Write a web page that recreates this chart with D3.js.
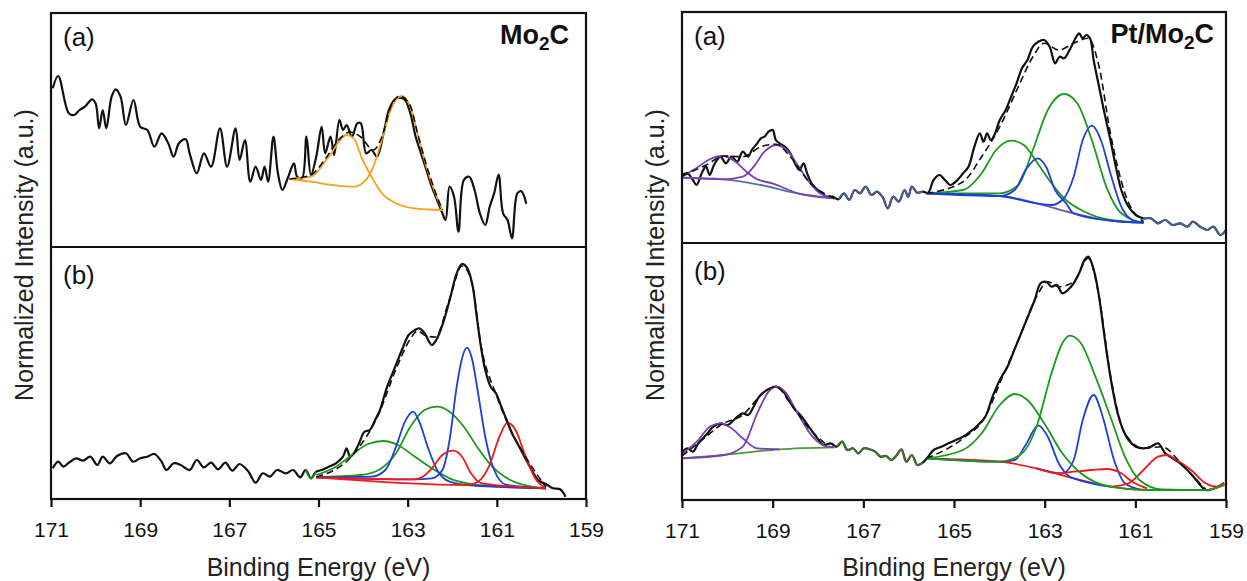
<!DOCTYPE html>
<html>
<head>
<meta charset="utf-8">
<script src="https://cdn.jsdelivr.net/npm/d3@7"></script>
<style>
  body { margin: 0; background: #fff; }
  text { font-family: "Liberation Sans", Arial, sans-serif; }
</style>
</head>
<body>
<svg id="chart" width="1247" height="581"></svg>
<script>
// ---- data: [binding energy (eV), intensity (a.u.)] ----
var energyTicks = [171, 169, 167, 165, 163, 161, 159];

// Mo2C (a)
var mo2cA = [[170.96,158.7],[170.84,171],[170.60,133.7],[170.48,132],[170.36,137],[170.24,140.3],[170.08,147.7],[170.00,143.7],[169.92,118.7],[169.84,137],[169.76,118.7],[169.64,150.3],[169.55,157.7],[169.44,150.3],[169.32,122],[169.15,147],[169.00,120.3],[168.84,117],[168.68,100.3],[168.52,113.7],[168.37,103.7],[168.25,90.3],[168.13,103.7],[167.98,107.7],[167.89,93.7],[167.73,73.7],[167.57,93.7],[167.41,80.3],[167.21,118.7],[167.05,80.3],[166.86,118.7],[166.77,87],[166.65,107],[166.53,65.3],[166.41,80.3],[166.29,67],[166.21,80.3],[166.13,65.3],[166.01,110.3],[165.91,73.7],[165.81,57],[165.69,68.7],[165.55,83.7],[165.48,70.3],[165.37,68.7],[165.27,110.3],[165.17,72],[165.05,90.3],[164.93,120.3],[164.85,93.7],[164.73,110.3],[164.65,92],[164.53,127],[164.45,117],[164.37,122],[164.25,110.3],[164.13,123.7],[164.05,123.7],[163.93,93.7],[163.81,97],[163.69,90.3],[163.54,113.7],[163.42,137],[163.30,147],[163.18,149.3],[163.06,147],[162.94,133.7],[162.82,110.3],[162.70,93.7],[162.58,77],[162.46,60.3],[162.34,47],[162.22,33.7],[162.15,27],[162.06,60.3],[161.96,50.3],[161.86,15.3],[161.74,67],[161.62,70.3],[161.50,57],[161.38,33.7],[161.26,22],[161.16,40.3],[161.06,53.7],[160.96,72.3],[160.86,33.7],[160.76,27],[160.66,8.7],[160.54,53.7],[160.45,55.7],[160.34,43.3]];
var mo2cAPeak1 = [[165.65,68],[165.17,70.3],[164.77,90.3],[164.37,112],[164.21,108.7],[164.01,87],[163.81,70.3],[163.58,53.7],[163.26,43.7],[162.86,38.7],[162.22,37]];
var mo2cAPeak2 = [[165.65,68],[165.17,65.3],[164.69,62],[164.21,60.3],[163.97,65.3],[163.77,80.3],[163.58,107],[163.38,137],[163.14,151],[162.94,140.3],[162.78,113.7],[162.58,80.3],[162.38,53.7],[162.22,37]];
var mo2cAFit = [[165.65,68],[165.17,72],[164.85,88],[164.53,108],[164.29,115],[164.05,110],[163.77,97],[163.58,110],[163.38,140],[163.18,151],[162.94,141],[162.78,114],[162.58,82],[162.38,55],[162.22,37]];

// Mo2C (b)
var mo2cB = [[170.96,30.7],[170.84,37.3],[170.72,32.3],[170.60,36.3],[170.44,40.7],[170.28,38.3],[170.12,42.3],[169.96,34],[169.84,42.3],[169.68,35.7],[169.52,43],[169.32,45.7],[169.16,37.3],[169.00,40.7],[168.84,42.3],[168.68,45],[168.52,37.3],[168.41,29],[168.25,35.7],[168.09,34],[167.89,29],[167.73,39],[167.57,31.7],[167.41,36.3],[167.25,29.7],[167.09,36.3],[166.93,28.3],[166.77,35],[166.57,27.3],[166.41,16.3],[166.25,25.7],[166.09,22.3],[165.93,29],[165.73,25.7],[165.57,29],[165.41,21.7],[165.29,29],[165.17,20.7],[165.05,27.3],[164.93,29],[164.77,32.3],[164.61,35.7],[164.45,42.3],[164.37,50.7],[164.29,42.3],[164.21,45.7],[164.09,55.7],[163.97,67.3],[163.85,69],[163.73,79],[163.62,89],[163.54,100.7],[163.46,112.3],[163.34,125.7],[163.22,139],[163.10,152.3],[162.98,164],[162.86,168.3],[162.74,170.7],[162.62,165.7],[162.46,154],[162.36,159],[162.26,169],[162.14,185.7],[162.02,205.7],[161.90,225.7],[161.78,235],[161.66,230.7],[161.54,212.3],[161.46,185.7],[161.38,159],[161.26,129],[161.14,112.3],[161.02,105.7],[160.90,92.3],[160.78,79],[160.66,65.7],[160.54,55.7],[160.38,42.3],[160.22,29],[160.06,18.3],[159.90,15],[159.74,10.7],[159.58,9.7],[159.46,2.3]];
var mo2cBGreen1 = [[165.05,24],[164.61,32.3],[164.21,45.7],[163.89,55],[163.54,58],[163.22,54],[162.86,43],[162.46,30.7],[162.06,20.7],[161.66,15.7],[160.86,12.3],[159.90,10.7]];
var mo2cBGreen2 = [[165.05,21.7],[164.05,24],[163.65,29],[163.26,45.7],[162.94,72.3],[162.62,89],[162.34,92.3],[162.06,87.3],[161.74,72.3],[161.42,50.7],[161.10,32.3],[160.70,19],[160.30,13],[159.90,10.7]];
var mo2cBBlue1 = [[165.05,21.7],[163.81,22.3],[163.50,29],[163.26,52.3],[163.06,77.3],[162.88,87.3],[162.74,77.3],[162.54,50.7],[162.34,29],[162.06,17.3],[161.66,14],[159.90,10.7]];
var mo2cBBlue2 = [[165.05,21.7],[162.86,19.7],[162.46,20.7],[162.22,29],[162.06,59],[161.90,112.3],[161.78,140.7],[161.67,151.3],[161.56,140.7],[161.42,105.7],[161.26,62.3],[161.06,29],[160.78,14],[159.90,10.7]];
var mo2cBRed1 = [[165.05,21.7],[162.86,19.7],[162.66,22.3],[162.46,30.7],[162.22,44],[161.98,48.3],[161.78,42.3],[161.58,25.7],[161.34,15.7],[159.90,10.7]];
var mo2cBRed2 = [[165.05,21.7],[161.66,14],[161.42,17.3],[161.18,32.3],[160.94,62.3],[160.76,76.3],[160.58,69],[160.38,45.7],[160.14,20.7],[159.90,10.7]];
var mo2cBFit = [[165.05,22],[164.21,45],[163.65,85],[163.26,130],[162.94,160],[162.78,168],[162.58,163],[162.38,162],[162.06,200],[161.78,233],[161.58,220],[161.34,150],[161.02,105],[160.70,70],[160.38,44],[159.90,12]];

// Pt/Mo2C (a)
var ptA = [[171.00,68],[170.88,69.7],[170.76,63],[170.68,58],[170.55,71.3],[170.47,76.3],[170.39,68],[170.31,76.3],[170.23,83],[170.15,86.3],[170.03,79.7],[169.91,86.3],[169.78,81.3],[169.66,91.3],[169.54,86.3],[169.46,93],[169.34,99.7],[169.26,104.7],[169.18,106.3],[169.09,111.3],[169.00,113],[168.93,103],[168.85,99.7],[168.73,96.3],[168.61,89.7],[168.49,78],[168.41,73],[168.32,79.7],[168.24,69.7],[168.12,58],[167.96,51.3],[167.80,46.3],[167.68,46.3],[167.55,43.7],[167.43,49.7],[167.31,43],[167.19,53],[167.07,49.7],[166.95,56.3],[166.82,48],[166.70,51.3],[166.58,46.3],[166.46,34.7],[166.34,46.3],[166.22,41.3],[166.09,53],[166.01,46.3],[165.93,56.3],[165.81,50.3],[165.69,51.3],[165.57,50.3],[165.45,63],[165.32,68],[165.20,63],[165.08,58],[164.96,61.3],[164.80,69.7],[164.68,76.3],[164.55,96.3],[164.43,109.7],[164.35,101.3],[164.27,109.7],[164.19,103],[164.11,108],[163.99,123],[163.86,133],[163.74,146.3],[163.62,159.7],[163.50,174.7],[163.38,183],[163.26,196.3],[163.14,201.3],[163.01,203],[162.89,196.3],[162.77,179.7],[162.67,186.3],[162.57,184.7],[162.45,193],[162.32,204.7],[162.24,209.7],[162.16,204.7],[162.08,208],[162.00,204.7],[161.92,183],[161.80,156.3],[161.68,129.7],[161.55,103],[161.43,76.3],[161.31,53],[161.15,36.3],[160.99,28],[160.82,24.7],[160.66,24.7],[160.50,19.7],[160.34,23],[160.18,18],[160.01,19.7],[159.85,16.3],[159.73,21.3],[159.57,16.3],[159.41,13],[159.28,16.3],[159.12,8],[159.00,13]];
var ptABgLow = [[171.00,65.3],[170.07,63.7],[169.26,58],[168.45,49.7],[167.64,44.7]];
var ptABgHigh = [[165.61,49.7],[163.99,47],[163.18,39.7],[162.36,29.7],[161.55,22.3],[160.82,20.3]];
var ptAPurple1 = [[171.00,66.3],[170.64,76.3],[170.39,83.7],[170.11,87],[169.82,81.3],[169.58,71.3],[169.34,63.7],[169.01,59.7],[168.45,49.7],[167.64,44.7]];
var ptAPurple2 = [[171.00,65.3],[170.07,63.7],[169.66,66.3],[169.42,76.3],[169.18,91.3],[168.93,98],[168.69,93],[168.45,78],[168.20,61.3],[167.96,49.7],[167.64,44.7]];
var ptAGreen1 = [[165.61,49.7],[164.80,53],[164.39,69.7],[164.07,93],[163.74,102.3],[163.46,98],[163.18,81.3],[162.85,59.7],[162.53,43],[162.12,31.3],[161.55,23],[160.82,20.3]];
var ptAGreen2 = [[165.61,49.7],[163.99,49.7],[163.58,58],[163.26,93],[162.93,133],[162.57,149],[162.28,139.7],[161.96,103],[161.64,56.3],[161.31,29.7],[160.82,20.3]];
var ptABlue1 = [[165.61,49.7],[163.99,47],[163.66,53],[163.42,73],[163.16,84.7],[162.97,76.3],[162.77,53],[162.53,39.7],[162.36,29.7],[161.55,22.3],[160.82,20.3]];
var ptABlue2 = [[165.61,49.7],[163.99,47],[163.18,39.7],[162.85,38],[162.61,43],[162.36,66.3],[162.16,103],[161.96,117.3],[161.76,103],[161.55,69.7],[161.31,36.3],[161.07,23],[160.82,20.3]];
var ptAFitLow = [[171.00,67],[170.47,78],[170.07,87],[169.66,86.3],[169.26,96.3],[168.93,98.7],[168.61,86.3],[168.20,61.3],[167.64,44.7]];
var ptAFitHigh = [[165.61,49.7],[164.80,61.3],[164.39,86.3],[163.99,116.3],[163.58,156.3],[163.26,186.3],[163.01,199.7],[162.69,193],[162.36,199.7],[162.04,204.7],[161.80,176.3],[161.55,109.7],[161.23,49.7],[160.82,21.3]];

// Pt/Mo2C (b)
var ptB = [[171.00,48.3],[170.88,51.7],[170.76,48.3],[170.64,56.7],[170.47,65],[170.31,73.3],[170.15,76.7],[169.99,75],[169.82,81.7],[169.66,86.7],[169.54,85],[169.42,93.3],[169.30,103.3],[169.18,108.3],[169.05,111.7],[168.93,113.3],[168.81,110.7],[168.69,103.3],[168.53,91.7],[168.36,83.3],[168.20,73.3],[168.04,63.3],[167.88,55],[167.72,56.7],[167.59,53.3],[167.47,58.3],[167.35,50],[167.23,51.7],[167.11,46.7],[166.99,51.7],[166.86,50.7],[166.74,48.3],[166.62,43.3],[166.50,44],[166.38,40],[166.26,45],[166.16,50.7],[166.05,38.3],[165.93,45],[165.81,35],[165.69,37.3],[165.57,43.3],[165.45,50],[165.28,53.3],[165.12,56.7],[164.96,60],[164.80,63.3],[164.64,68.3],[164.47,75],[164.31,83.3],[164.15,103.3],[163.99,120],[163.82,133.3],[163.70,146.7],[163.58,160],[163.46,173.3],[163.34,186.7],[163.22,200],[163.09,216.7],[162.97,218.3],[162.85,213.3],[162.73,215],[162.61,206.7],[162.49,210],[162.36,216.7],[162.24,226.7],[162.12,240],[162.04,243.3],[161.96,236.7],[161.88,223.3],[161.80,203.3],[161.72,176.7],[161.64,150],[161.55,123.3],[161.47,103.3],[161.39,86.7],[161.27,70],[161.15,60],[160.99,53.3],[160.82,51.7],[160.66,53.3],[160.50,56.7],[160.34,46.7],[160.18,41.7],[160.01,36.7],[159.85,30],[159.69,21.7],[159.57,15],[159.45,10],[159.32,10.7],[159.20,12.7],[159.04,16.7]];
var ptBBgLow = [[171.00,41.7],[170.07,45],[168.85,50.7],[167.64,52.7]];
var ptBBgHigh = [[165.61,41.7],[163.99,38.3],[163.18,31.7],[162.36,21.7],[161.55,13.3],[160.74,10],[159.45,10],[159.04,15]];
var ptBPurple1 = [[171.00,46],[170.64,60],[170.39,73.3],[170.15,76.7],[169.91,71.7],[169.66,61.7],[169.34,51.7],[168.85,50.7]];
var ptBPurple2 = [[171.00,41.7],[170.07,45],[169.66,53.3],[169.34,86.7],[169.09,108.3],[168.93,113.3],[168.73,108.3],[168.45,86.7],[168.12,63.3],[167.80,53.3],[167.64,52.7]];
var ptBGreen1 = [[165.61,41.7],[164.80,50],[164.39,66.7],[163.99,95],[163.66,106],[163.38,100],[163.01,76.7],[162.61,46.7],[162.20,26.7],[161.55,13.3],[160.74,10],[159.45,10],[159.04,15]];
var ptBGreen2 = [[165.61,41.7],[163.99,38.3],[163.50,46.7],[163.18,73.3],[162.85,126.7],[162.61,156.7],[162.45,164.3],[162.20,156.7],[161.88,123.3],[161.55,83.3],[161.23,43.3],[160.91,20],[160.42,10.7],[159.45,10],[159.04,15]];
var ptBBlue1 = [[165.61,41.7],[163.99,38.3],[163.66,40],[163.42,55],[163.14,74.7],[162.93,63.3],[162.69,36.7],[162.45,23.3],[162.36,21.7],[161.55,13.3]];
var ptBBlue2 = [[163.18,31.7],[162.61,26.7],[162.36,40],[162.16,80],[161.92,105],[161.72,83.3],[161.47,40],[161.23,16.7],[160.91,10.7]];
var ptBRed1 = [[163.18,31.7],[162.69,26.7],[162.36,28.3],[161.96,30],[161.64,31],[161.31,26.7],[161.07,18.3],[160.74,11.7]];
var ptBRed2 = [[161.55,13.3],[161.15,16.7],[160.82,30],[160.50,43.3],[160.30,45],[160.09,40],[159.77,30],[159.45,16.7],[159.20,13.3],[159.04,17.3]];
var ptBFitLow = [[171.00,44],[170.47,63.3],[170.15,75],[169.66,85],[169.18,108.3],[168.93,113.3],[168.61,96.7],[168.20,71.7],[167.80,55]];
var ptBFitHigh = [[165.61,41.7],[164.80,61.7],[164.31,83.3],[163.99,116.7],[163.58,160],[163.18,203.3],[162.93,218.3],[162.69,213.3],[162.36,218.3],[162.04,241.7],[161.80,203.3],[161.55,125],[161.23,66.7],[160.82,51.7],[160.42,53.3],[159.93,33.3],[159.45,10.7]];

// ---- colours ----
var cOrange = "#f5a01e", cGreen = "#1c9a1c", cBlue = "#1d3fd8", cRed = "#f01818",
    cPurple = "#7d3fae", cSteel = "#5570ae";

var svg = d3.select("#chart");

function inRange(pts, hi, lo) {
  return pts.filter(function(d) { return d[0] <= hi && d[0] >= lo; });
}

function drawSub(x, y, sub, id) {
  var x0 = x.range()[0], x1 = x.range()[1];
  var yb = y.range()[0], yt = y.range()[1];
  svg.append("clipPath").attr("id", id)
    .append("rect").attr("x", x0).attr("y", yt).attr("width", x1 - x0).attr("height", yb - yt);
  var g = svg.append("g").attr("clip-path", "url(#" + id + ")");

  var smooth = d3.line().x(function(d) { return x(d[0]); }).y(function(d) { return y(d[1]); })
    .curve(d3.curveMonotoneX);
  var noisy = d3.line().x(function(d) { return x(d[0]); }).y(function(d) { return y(d[1]); })
    .curve(d3.curveCatmullRom.alpha(0.5));

  (sub.under || []).forEach(function(c) {
    g.append("path").attr("d", noisy(c.pts)).attr("fill", "none")
      .attr("stroke", c.color).attr("stroke-width", 2.2);
  });
  g.append("path").attr("d", noisy(sub.spectrum)).attr("fill", "none")
    .attr("stroke", "#111").attr("stroke-width", 2.2).attr("stroke-linejoin", "round");
  (sub.over || []).forEach(function(c) {
    g.append("path").attr("d", noisy(c.pts)).attr("fill", "none")
      .attr("stroke", c.color).attr("stroke-width", 1.8).attr("opacity", 0.85);
  });
  sub.comps.forEach(function(c) {
    g.append("path").attr("d", smooth(c.pts)).attr("fill", "none")
      .attr("stroke", c.color).attr("stroke-width", 1.8);
  });
  (sub.fits || []).forEach(function(f) {
    g.append("path").attr("d", smooth(f)).attr("fill", "none")
      .attr("stroke", "#111").attr("stroke-width", 1.6).attr("stroke-dasharray", "7,4");
  });
}

function drawPanel(p) {
  var x = d3.scaleLinear().domain([171, 159]).range([p.left, p.right]);
  var yA = d3.scaleLinear().domain([0, p.mid - p.top]).range([p.mid, p.top]);
  var yB = d3.scaleLinear().domain([0, p.bottom - p.mid]).range([p.bottom, p.mid]);

  drawSub(x, yA, p.a, p.id + "a");
  drawSub(x, yB, p.b, p.id + "b");

  // frame
  svg.append("rect").attr("x", p.left).attr("y", p.top)
    .attr("width", p.right - p.left).attr("height", p.bottom - p.top)
    .attr("fill", "none").attr("stroke", "#111").attr("stroke-width", 2.2);
  svg.append("line").attr("x1", p.left).attr("x2", p.right)
    .attr("y1", p.mid).attr("y2", p.mid).attr("stroke", "#111").attr("stroke-width", 2.2);

  var ax = svg.append("g").attr("transform", "translate(0," + p.bottom + ")")
    .call(d3.axisBottom(x).tickValues(energyTicks).tickFormat(d3.format("d"))
      .tickSize(8).tickPadding(15));
  ax.select(".domain").remove();
  ax.selectAll(".tick line").attr("stroke", "#111").attr("stroke-width", 2.2);
  ax.selectAll(".tick text").attr("font-size", 21).attr("fill", "#111")
    .attr("font-family", "'Liberation Sans', Arial, sans-serif");

  svg.append("text").attr("x", (p.left + p.right) / 2).attr("y", 576)
    .attr("text-anchor", "middle").attr("font-size", 25).attr("fill", "#222")
    .text("Binding Energy (eV)");
  svg.append("text").attr("transform", "translate(" + p.ylabX + ",255) rotate(-90)")
    .attr("text-anchor", "middle").attr("font-size", 25).attr("fill", "#222")
    .text("Normalized Intensity (a.u.)");

  svg.append("text").attr("x", p.left + 12).attr("y", p.top + 33)
    .attr("font-size", 26).attr("fill", "#111").text("(a)");
  svg.append("text").attr("x", p.left + 12).attr("y", p.mid + 37)
    .attr("font-size", 26).attr("fill", "#111").text("(b)");

  var t = svg.append("text").attr("x", p.titleX).attr("y", p.top + 31)
    .attr("text-anchor", "end").attr("font-size", 27).attr("font-weight", "bold").attr("fill", "#111");
  t.append("tspan").text(p.title);
  t.append("tspan").attr("font-size", 19).attr("dy", 6).text("2");
  t.append("tspan").attr("dy", -6).text("C");
}

drawPanel({
  id: "mo2c", left: 51, right: 586, top: 13, mid: 247, bottom: 499,
  ylabX: 33, titleX: 569, title: "Mo",
  a: {
    spectrum: mo2cA,
    comps: [{pts: mo2cAPeak1, color: cOrange}, {pts: mo2cAPeak2, color: cOrange}],
    fits: [mo2cAFit]
  },
  b: {
    spectrum: mo2cB,
    over: [{pts: inRange(mo2cB, 165.4, 165.0), color: cGreen}],
    comps: [{pts: mo2cBGreen1, color: cGreen}, {pts: mo2cBGreen2, color: cGreen},
            {pts: mo2cBBlue1, color: cBlue}, {pts: mo2cBBlue2, color: cBlue},
            {pts: mo2cBRed1, color: cRed}, {pts: mo2cBRed2, color: cRed}],
    fits: [mo2cBFit]
  }
});

drawPanel({
  id: "pt", left: 682, right: 1226, top: 12, mid: 243, bottom: 500,
  ylabX: 664, titleX: 1214, title: "Pt/Mo",
  a: {
    spectrum: ptA,
    over: [{pts: inRange(ptA, 167.64, 165.61), color: cSteel},
           {pts: inRange(ptA, 160.82, 159.0), color: cSteel}],
    comps: [{pts: ptABgLow, color: cSteel}, {pts: ptABgHigh, color: "#6a5aa8"},
            {pts: ptAPurple1, color: cPurple}, {pts: ptAPurple2, color: cPurple},
            {pts: ptAGreen1, color: cGreen}, {pts: ptAGreen2, color: cGreen},
            {pts: ptABlue1, color: cBlue}, {pts: ptABlue2, color: cBlue}],
    fits: [ptAFitLow, ptAFitHigh]
  },
  b: {
    spectrum: ptB,
    over: [{pts: inRange(ptB, 167.64, 165.61), color: "#4f8a3a"}],
    comps: [{pts: ptBBgLow, color: "#4f9a3a"}, {pts: ptBBgHigh, color: cRed},
            {pts: ptBPurple1, color: cPurple}, {pts: ptBPurple2, color: cPurple},
            {pts: ptBBlue1, color: cBlue}, {pts: ptBBlue2, color: cBlue},
            {pts: ptBRed1, color: cRed}, {pts: ptBRed2, color: cRed},
            {pts: ptBGreen1, color: cGreen}, {pts: ptBGreen2, color: cGreen}],
    fits: [ptBFitLow, ptBFitHigh]
  }
});
</script>
</body>
</html>
